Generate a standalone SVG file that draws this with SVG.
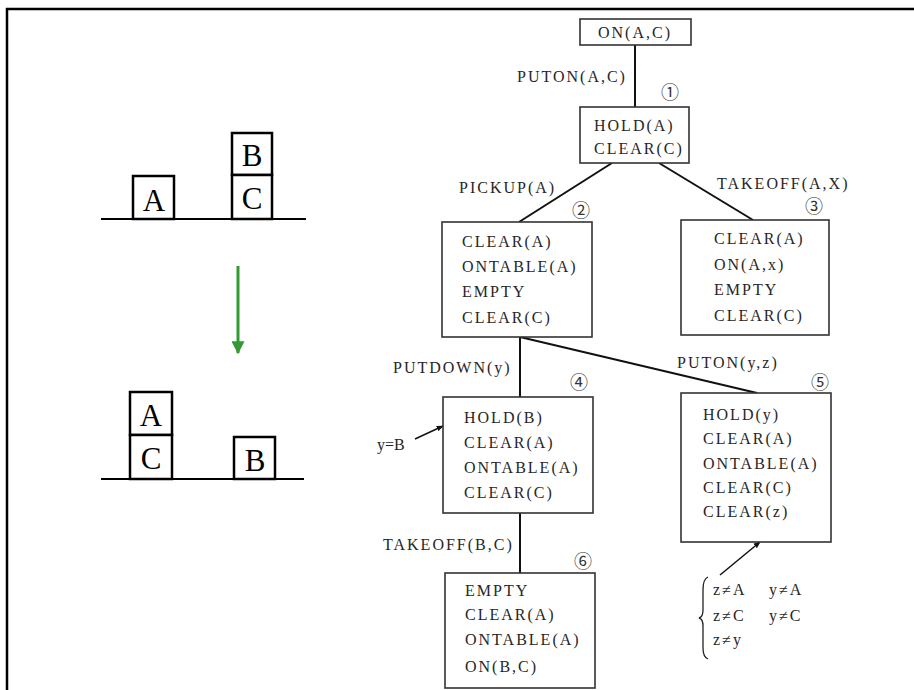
<svg xmlns="http://www.w3.org/2000/svg" width="914" height="690" viewBox="0 0 914 690">
<style>
.t{font-family:"Liberation Serif","Times New Roman",serif;font-size:16px;letter-spacing:2px;fill:#262626}
.blk{fill:#fff;stroke:#000;stroke-width:2.5}
.big{font-family:"Liberation Serif","Times New Roman",serif;font-size:31px;fill:#000;text-anchor:middle}
.box{fill:#fff;stroke:#333;stroke-width:1.6}
.ln{stroke:#111;stroke-width:2;fill:none}
.num{font-family:"Noto Sans CJK JP","DejaVu Sans",sans-serif;font-size:18px;fill:#333;text-anchor:middle}
.cs{letter-spacing:2px}
</style>
<defs>
<marker id="ah" viewBox="0 0 10 10" refX="9" refY="5" markerWidth="7" markerHeight="7" orient="auto" markerUnits="userSpaceOnUse">
<path d="M0,1 L10,5 L0,9 z" fill="#111"/>
</marker>
<marker id="gh" viewBox="0 0 10 10" refX="9" refY="5" markerWidth="13" markerHeight="13" orient="auto" markerUnits="userSpaceOnUse">
<path d="M0,0 L10,5 L0,10 z" fill="#339933"/>
</marker>
</defs>
<rect width="914" height="690" fill="#fff"/>
<!-- frame -->
<path d="M7,690 L7,9 L914,9" fill="none" stroke="#000" stroke-width="2.5"/>

<!-- initial state -->
<g id="state-initial">
<line x1="101" y1="219" x2="306" y2="219" stroke="#000" stroke-width="2"/>
<rect class="blk" x="133" y="176" width="41" height="43"/>
<text class="big" x="154" y="211">A</text>
<rect class="blk" x="232" y="133" width="40" height="42"/>
<text class="big" x="252" y="166">B</text>
<rect class="blk" x="232" y="175" width="40" height="44"/>
<text class="big" x="252" y="209">C</text>
</g>

<g id="transition-arrow">
<line x1="238" y1="266" x2="238" y2="353" stroke="#339933" stroke-width="3" marker-end="url(#gh)"/>
</g>

<!-- goal state -->
<g id="state-goal">
<line x1="101" y1="479" x2="304" y2="479" stroke="#000" stroke-width="2"/>
<rect class="blk" x="130" y="392" width="42" height="43"/>
<text class="big" x="151" y="426">A</text>
<rect class="blk" x="130" y="435" width="42" height="44"/>
<text class="big" x="151" y="469">C</text>
<rect class="blk" x="234" y="437" width="41" height="42"/>
<text class="big" x="255" y="471">B</text>
</g>

<!-- connectors -->
<g id="connectors">
<line class="ln" x1="635" y1="45" x2="635" y2="107"/>
<line class="ln" x1="612" y1="163" x2="519" y2="222"/>
<line class="ln" x1="659" y1="163" x2="753" y2="220"/>
<line class="ln" x1="520" y1="337" x2="520" y2="397"/>
<line class="ln" x1="520" y1="337" x2="757" y2="393"/>
<line class="ln" x1="520" y1="513" x2="520" y2="573"/>
<line stroke="#111" stroke-width="1.5" x1="415" y1="439" x2="443" y2="426" marker-end="url(#ah)"/>
<line stroke="#111" stroke-width="1.5" x1="720" y1="575" x2="760" y2="542" marker-end="url(#ah)"/>
<text class="t" x="517" y="82">PUTON(A,C)</text>
<text class="t" x="459" y="193">PICKUP(A)</text>
<text class="t" x="717" y="189">TAKEOFF(A,X)</text>
<text class="t" x="393" y="373">PUTDOWN(y)</text>
<text class="t" x="677" y="368">PUTON(y,z)</text>
<text class="t" x="383" y="550">TAKEOFF(B,C)</text>
</g>

<g id="node-goal">
<rect class="box" x="580" y="19" width="111" height="26"/>
<text class="t" x="598" y="38">ON(A,C)</text>
</g>

<g id="node-1">
<rect class="box" x="580" y="107" width="109" height="56"/>
<text class="num" x="670" y="99">①</text>
<text class="t" x="594" y="131">HOLD(A)</text>
<text class="t" x="594" y="154">CLEAR(C)</text>
</g>

<g id="node-2">
<rect class="box" x="442" y="222" width="150" height="115"/>
<text class="num" x="581" y="217">②</text>
<text class="t" x="462" y="247">CLEAR(A)</text>
<text class="t" x="462" y="272">ONTABLE(A)</text>
<text class="t" x="462" y="297">EMPTY</text>
<text class="t" x="462" y="323">CLEAR(C)</text>
</g>

<g id="node-3">
<rect class="box" x="681" y="220" width="148" height="115"/>
<text class="num" x="814" y="213">③</text>
<text class="t" x="714" y="244">CLEAR(A)</text>
<text class="t" x="714" y="270">ON(A,x)</text>
<text class="t" x="714" y="295">EMPTY</text>
<text class="t" x="714" y="321">CLEAR(C)</text>
</g>

<g id="node-4">
<rect class="box" x="443" y="397" width="150" height="116"/>
<text class="num" x="579" y="389">④</text>
<text class="t" x="464" y="423">HOLD(B)</text>
<text class="t" x="464" y="448">CLEAR(A)</text>
<text class="t" x="464" y="473">ONTABLE(A)</text>
<text class="t" x="464" y="498">CLEAR(C)</text>
<text class="t" x="377" y="450" style="letter-spacing:0">y=B</text>
</g>

<g id="node-5">
<rect class="box" x="681" y="393" width="150" height="149"/>
<text class="num" x="820" y="389">⑤</text>
<text class="t" x="703" y="420">HOLD(y)</text>
<text class="t" x="703" y="444">CLEAR(A)</text>
<text class="t" x="703" y="469">ONTABLE(A)</text>
<text class="t" x="703" y="493">CLEAR(C)</text>
<text class="t" x="703" y="517">CLEAR(z)</text>
</g>

<g id="constraints">
<path d="M708,577 Q703,579 703,590 L703,610 Q703,617 699,618 Q703,619 703,626 L703,648 Q703,657 708,659" fill="none" stroke="#222" stroke-width="1.3"/>
<text class="t cs" x="713" y="595">z≠A</text>
<text class="t cs" x="769" y="595">y≠A</text>
<text class="t cs" x="713" y="621">z≠C</text>
<text class="t cs" x="769" y="621">y≠C</text>
<text class="t cs" x="713" y="645">z≠y</text>
</g>

<g id="node-6">
<rect class="box" x="445" y="573" width="150" height="115"/>
<text class="num" x="583" y="568">⑥</text>
<text class="t" x="465" y="596">EMPTY</text>
<text class="t" x="465" y="620">CLEAR(A)</text>
<text class="t" x="465" y="645">ONTABLE(A)</text>
<text class="t" x="465" y="672">ON(B,C)</text>
</g>
</svg>
